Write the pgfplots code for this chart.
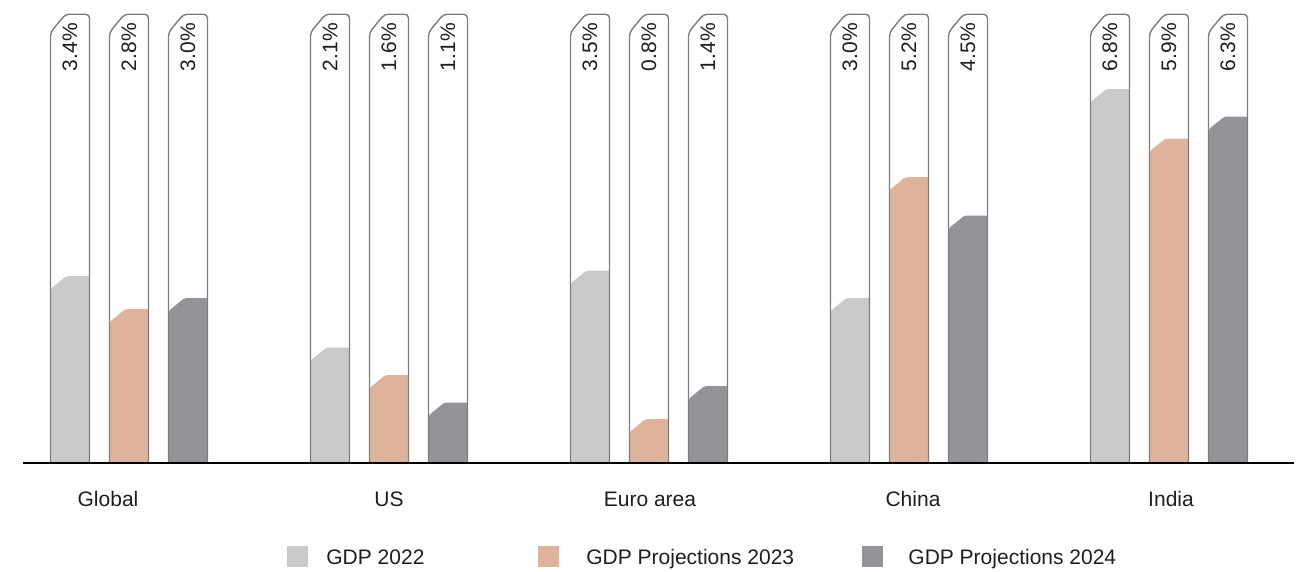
\documentclass[border=0pt]{standalone}
\usepackage{pgfplots}
\usepackage{pgfplotstable}
\pgfplotsset{compat=1.18}
\usepackage{fontspec}
\setmainfont{Liberation Sans}
\definecolor{c22}{RGB}{200,201,203}
\definecolor{c23}{RGB}{222,179,156}
\definecolor{c24}{RGB}{147,148,151}
\definecolor{capline}{RGB}{125,125,125}
\definecolor{txt}{RGB}{30,30,30}
\newcommand\pctfont{\fontsize{10.5}{12}\selectfont}
\newcommand\lblfont{\fontsize{10.5}{12}\selectfont}

\pgfplotstableread{
grp g22 g23 g24
0   3.4 2.8 3.0
1   2.1 1.6 1.1
2   3.5 0.8 1.4
3   3.0 5.2 4.5
4   6.8 5.9 6.3
}\gdp

% one bar: #1 centre (px), #2 value, #3 colour
\newcommand\onebar[3]{%
  \pgfmathsetmacro\bL{#1-19.5}%
  \pgfmathsetmacro\bR{#1+19.5}%
  \pgfmathsetmacro\bX{#1}%
  \pgfmathsetmacro\bC{#1-19.5+16}%
  \pgfmathsetmacro\bCc{#1-19.5+15}%
  \pgfmathsetmacro\bV{#2}%
  \pgfmathsetmacro\bVc{#2-0.236}%
  \edef\tmp{%
    \noexpand\fill[white] (axis cs:\bL,0) -- (axis cs:\bL,7.83) -- (axis cs:\bCc,8.16) -- (axis cs:\bR,8.16) -- (axis cs:\bR,0) -- cycle;
    \noexpand\fill[#3,rounded corners=1pt] (axis cs:\bL,0) -- (axis cs:\bL,\bVc) -- (axis cs:\bC,\bV) -- (axis cs:\bR,\bV) -- (axis cs:\bR,0) -- cycle;
    \noexpand\draw[capline,line width=0.7pt,rounded corners=2pt] (axis cs:\bL,0) -- (axis cs:\bL,7.83) -- (axis cs:\bCc,8.16) -- (axis cs:\bR,8.16) -- (axis cs:\bR,0);
    \noexpand\node[rotate=90,text=txt,font=\noexpand\pctfont,inner sep=0pt] at (axis cs:\bX,7.56) {#2\noexpand\%};
  }\tmp
}

\begin{document}
\begin{tikzpicture}
\begin{axis}[
  x=0.5pt, y=27.5pt,
  xmin=0, xmax=1300, ymin=-1.9818, ymax=8.4182,
  hide axis, clip=false,
]
\path (axis cs:0,-1.9818) rectangle (axis cs:1300,8.4182);
\pgfplotsinvokeforeach{0,...,4}{
  \pgfplotstablegetelem{#1}{g22}\of\gdp \edef\gva{\pgfplotsretval}
  \pgfplotstablegetelem{#1}{g23}\of\gdp \edef\gvb{\pgfplotsretval}
  \pgfplotstablegetelem{#1}{g24}\of\gdp \edef\gvc{\pgfplotsretval}
  \pgfmathsetmacro\gx{129+260*#1}
  \onebar{\gx-59}{\gva}{c22}
  \onebar{\gx}{\gvb}{c23}
  \onebar{\gx+59}{\gvc}{c24}
}
\draw[black,line width=0.75pt] (axis cs:23,0) -- (axis cs:1294,0);
% category labels
\node[anchor=base,text=txt,font=\lblfont,inner sep=0pt] at (axis cs:108,-0.80) {Global};
\node[anchor=base,text=txt,font=\lblfont,inner sep=0pt] at (axis cs:389,-0.80) {US};
\node[anchor=base,text=txt,font=\lblfont,inner sep=0pt] at (axis cs:650,-0.80) {Euro area};
\node[anchor=base,text=txt,font=\lblfont,inner sep=0pt] at (axis cs:913,-0.80) {China};
\node[anchor=base,text=txt,font=\lblfont,inner sep=0pt] at (axis cs:1171,-0.80) {India};
% legend
\fill[c22] (axis cs:287,-1.509) rectangle (axis cs:308,-1.891);
\node[anchor=base west,text=txt,font=\lblfont,inner sep=0pt] at (axis cs:326,-1.845) {GDP 2022};
\fill[c23] (axis cs:538,-1.509) rectangle (axis cs:559,-1.891);
\node[anchor=base west,text=txt,font=\lblfont,inner sep=0pt] at (axis cs:586,-1.845) {GDP Projections 2023};
\fill[c24] (axis cs:862,-1.509) rectangle (axis cs:883,-1.891);
\node[anchor=base west,text=txt,font=\lblfont,inner sep=0pt] at (axis cs:908,-1.845) {GDP Projections 2024};
\end{axis}
\end{tikzpicture}
\end{document}
